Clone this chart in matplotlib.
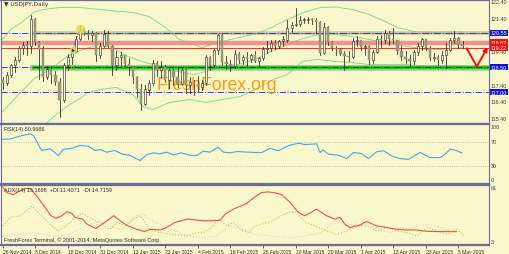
import numpy as np
import matplotlib.pyplot as plt
from matplotlib.transforms import blended_transform_factory

# USDJPY daily bars, 26 Nov 2014 .. 6 May 2015
opens = [117.75, 117.55, 118.05, 118.60, 118.95, 119.65, 119.80, 119.75, 121.40, 120.00,
         119.60, 117.90, 118.40, 118.00, 117.60, 116.50, 118.60, 119.10, 119.45, 120.20,
         120.75, 120.50, 120.40, 120.55, 119.20, 119.75, 120.50, 119.75, 118.60, 119.10,
         119.20, 118.70, 118.50, 117.90, 117.20, 116.30, 117.15, 117.55, 118.75, 118.30,
         118.50, 117.70, 118.30, 117.90, 117.50, 118.30, 117.45, 117.60, 117.50, 117.30,
         117.55, 119.10, 118.60, 119.50, 120.40, 118.80, 118.70, 118.55, 119.30, 118.90,
         119.10, 119.00, 119.25, 118.85, 119.05, 119.60, 119.65, 119.95, 119.75, 120.05,
         120.15, 120.85, 121.05, 121.10, 121.35, 121.35, 121.40, 121.30, 121.20, 119.35,
         120.90, 120.00, 119.65, 119.60, 119.30, 119.15, 119.10, 120.05, 120.10, 119.70,
         119.75, 118.95, 119.40, 120.20, 120.15, 120.55, 120.20, 120.10, 119.45, 119.10,
         119.00, 118.85, 119.40, 119.75, 120.15, 119.65, 119.05, 119.10, 118.90, 119.25,
         119.50, 120.15, 120.25, 119.80]
highs = [117.90, 118.20, 118.70, 119.10, 119.75, 120.00, 120.05, 121.65, 121.45, 120.05,
         119.75, 118.55, 118.55, 118.25, 117.85, 118.75, 119.30, 119.55, 120.35, 120.95,
         120.85, 120.70, 120.65, 120.60, 119.95, 120.70, 120.65, 119.80, 119.45, 119.40,
         119.25, 119.05, 118.55, 117.95, 117.50, 117.40, 117.75, 118.90, 118.85, 118.85,
         118.65, 118.40, 118.40, 118.50, 118.45, 118.40, 117.90, 117.70, 117.95, 117.70,
         119.20, 119.15, 119.60, 120.50, 120.50, 119.15, 118.90, 119.50, 119.40, 119.25,
         119.40, 119.30, 119.45, 119.10, 119.70, 120.05, 120.15, 120.10, 120.15, 120.35,
         121.30, 121.20, 122.05, 121.55, 121.45, 121.50, 121.45, 121.45, 121.25, 121.15,
         120.95, 120.05, 119.75, 119.65, 119.45, 119.45, 120.25, 120.35, 120.15, 119.80,
         119.80, 119.55, 120.35, 120.40, 120.75, 120.65, 120.85, 120.15, 119.75, 119.45,
         119.25, 119.55, 119.95, 120.25, 120.15, 119.75, 119.35, 119.25, 119.45, 119.95,
         120.25, 120.65, 120.30, 120.05]
lows = [117.20, 117.45, 117.90, 118.20, 118.80, 119.30, 119.20, 119.35, 119.85, 117.80,
        117.65, 117.80, 117.55, 117.45, 115.50, 116.40, 118.30, 118.70, 119.40, 120.10,
        120.40, 120.20, 120.05, 118.85, 119.05, 119.70, 119.70, 118.05, 118.35, 118.60,
        118.55, 118.05, 117.55, 116.70, 115.90, 116.20, 116.85, 117.45, 117.95, 117.85,
        117.60, 117.25, 117.40, 117.30, 117.45, 116.95, 116.95, 116.85, 117.05, 117.10,
        117.45, 118.30, 118.55, 119.30, 118.60, 118.40, 118.25, 118.45, 118.75, 118.70,
        118.55, 118.80, 118.80, 118.50, 118.95, 119.35, 119.45, 119.60, 119.65, 119.75,
        120.00, 120.60, 120.95, 120.95, 121.15, 121.15, 121.10, 120.55, 119.25, 119.30,
        119.85, 119.50, 119.25, 119.20, 118.35, 118.85, 119.05, 119.75, 119.50, 119.25,
        118.70, 118.75, 119.35, 119.70, 119.95, 119.85, 119.95, 119.30, 118.95, 118.75,
        118.55, 118.70, 119.25, 119.55, 119.55, 118.95, 118.85, 118.65, 118.75, 118.45,
        119.45, 119.95, 119.65, 119.65]
closes = [117.55, 118.05, 118.60, 118.95, 119.65, 119.80, 119.75, 121.40, 120.00, 119.60,
          117.90, 118.40, 118.00, 117.60, 116.50, 118.60, 119.10, 119.45, 120.20, 120.75,
          120.50, 120.40, 120.55, 119.20, 119.75, 120.50, 119.75, 118.60, 119.10, 119.20,
          118.70, 118.50, 117.90, 117.20, 116.30, 117.15, 117.55, 118.75, 118.30, 118.50,
          117.70, 118.30, 117.90, 117.50, 118.30, 117.45, 117.60, 117.50, 117.30, 117.55,
          119.10, 118.60, 119.50, 120.40, 118.80, 118.70, 118.55, 119.30, 118.90, 119.10,
          119.00, 119.25, 118.85, 119.05, 119.60, 119.65, 119.95, 119.75, 120.05, 120.15,
          120.85, 121.05, 121.10, 121.35, 121.35, 121.40, 121.30, 121.20, 119.35, 120.90,
          120.00, 119.65, 119.60, 119.30, 119.15, 119.10, 120.05, 120.10, 119.70, 119.75,
          118.95, 119.40, 120.20, 120.15, 120.55, 120.20, 120.10, 119.45, 119.10, 119.00,
          118.85, 119.40, 119.75, 120.15, 119.65, 119.05, 119.10, 118.90, 119.25, 119.50,
          120.15, 120.25, 119.80, 119.75]

date_labels = ['26 Nov 2014', '8 Dec 2014', '18 Dec 2014', '31 Dec 2014', '13 Jan 2015',
               '23 Jan 2015', '4 Feb 2015', '16 Feb 2015', '26 Feb 2015', '10 Mar 2015',
               '20 Mar 2015', '1 Apr 2015', '13 Apr 2015', '23 Apr 2015', '5 May 2015']

# Bollinger bands, read at a few bars
bb_up_x = [0, 2, 5, 7.5, 10, 14, 19, 24, 28, 32, 36, 40, 43.5, 47, 49, 53, 58, 62.5, 66, 70,
           74, 78, 82, 86, 90, 94, 97, 101, 106, 113]
bb_up = [120.15, 120.75, 121.23, 121.77, 121.95, 122.07, 122.07, 121.95, 121.85, 121.77,
         121.53, 120.87, 120.15, 119.85, 119.67, 119.97, 120.27, 120.51, 120.87, 121.35,
         121.77, 122.07, 122.10, 121.95, 121.65, 121.23, 120.87, 120.63, 120.57, 120.63]
bb_mid_x = [0, 4, 7.5, 11.7, 15.8, 19.8, 24, 27, 30.8, 35, 39, 43, 47, 50, 54, 58, 62, 66,
            69.5, 73, 77.5, 81.7, 86, 90, 94, 99.4, 104.3, 108, 113]
bb_mid = [115.83, 116.85, 117.75, 118.35, 119.13, 119.55, 119.85, 119.67, 119.13, 118.77,
          118.53, 118.23, 118.05, 118.23, 118.53, 118.65, 118.95, 119.43, 119.79, 120.15,
          120.45, 120.45, 120.33, 120.15, 119.97, 119.73, 119.55, 119.55, 119.67]
bb_low_x = [8, 10.4, 13, 15.8, 19, 21, 24, 28, 32, 34.5, 37, 41, 46, 50, 54, 58.4, 62, 66.5,
            70, 73.6, 77.5, 81.7, 86, 90, 94, 99.4, 104, 113]
bb_low = [114.50, 115.05, 115.60, 116.13, 116.61, 116.97, 117.15, 117.27, 116.85, 116.13,
          115.95, 116.37, 116.55, 116.37, 116.55, 116.73, 117.15, 117.75, 118.05, 118.83,
          118.95, 118.83, 118.77, 118.65, 118.65, 118.65, 118.55, 118.55]

# RSI(14)
rsi_x = [0, 2, 4.3, 6.8, 7.6, 9.6, 11.7, 13.7, 14.9, 17, 19, 21.1, 22.7, 24, 25.6, 27.6,
         29.3, 31.3, 33.8, 35.4, 37.1, 38.7, 40.3, 42, 44, 46.1, 47.7, 49.3, 51, 53, 54.3,
         55.9, 57.5, 62, 63.7, 65.7, 67.8, 70.2, 72.7, 74.3, 77.2, 78, 78.8, 80, 82.5, 84.6,
         86.2, 88.2, 89.9, 91.9, 93.6, 95.6, 97.7, 99.7, 102.6, 105, 107.5, 108.7, 110,
         111.6, 112.8]
rsi = [73.5, 74.5, 79.0, 82.8, 80.0, 55.0, 57.8, 46.7, 56.7, 58.9, 63.3, 62.2, 55.0, 56.7,
       52.2, 55.0, 49.4, 46.7, 38.3, 47.8, 51.1, 49.4, 52.2, 47.8, 51.1, 46.7, 46.7, 53.9,
       52.2, 60.6, 52.2, 51.1, 53.3, 51.7, 51.7, 58.6, 54.6, 63.1, 67.1, 64.9, 66.0, 51.7,
       55.7, 48.9, 47.2, 41.4, 51.7, 50.0, 41.4, 52.9, 54.6, 46.0, 41.4, 40.3, 51.7, 43.2,
       43.2, 48.9, 57.4, 54.6, 50.97]

# ADX(14) with +DI / -DI
adx_x = [0, 1.1, 2.6, 4.1, 5.6, 6.8, 8.3, 10.1, 11.9, 13.1, 14.6, 15.8, 17, 17.8, 19.6,
         20.8, 22.9, 25.1, 27.3, 28.9, 30.5, 32.9, 34.9, 36.4, 38.7, 40.3, 42.3, 45.5, 47.1,
         49.4, 51.3, 53.5, 54.7, 56.8, 59.8, 62, 63.6, 65.1, 66.8, 68.5, 70.6, 72.6, 74.2,
         75.9, 77.1, 79.6, 81.6, 82.9, 84.1, 85.3, 87.8, 89.4, 91.9, 94.3, 96.8, 99.2, 101.7,
         104.1, 106.6, 109, 111.5]
adx = [59.2, 53.5, 51.5, 54.8, 57.5, 57.5, 50.8, 40.8, 30.8, 28.2, 30.8, 34.8, 33.2, 29.2,
       27.5, 22.5, 18.2, 24.2, 30.8, 25.8, 21.5, 17.5, 15.2, 17.5, 16.8, 19.2, 24.2, 27.5,
       26.8, 25.8, 25.8, 26.5, 32.5, 37.5, 42.5, 49.2, 53.5, 54.2, 53.5, 51.5, 44.2, 34.2,
       30.8, 34.2, 37.5, 30.8, 27.5, 29.2, 22.5, 19.2, 21.5, 25.2, 20.8, 19.2, 17.5, 16.8,
       16.8, 15.5, 15.2, 15.2, 15.17]
pdi_x = [0, 2, 4.4, 7.2, 9.2, 11.2, 13.6, 15.6, 18.1, 19.6, 21.3, 23.8, 26.3, 28, 30.5,
         32.1, 33.8, 36.2, 38.7, 42, 45.3, 47.8, 49.4, 51.8, 53.1, 55.1, 56.7, 58.4, 60.4,
         62, 65.3, 67.8, 69.9, 71.7, 74.6, 78.7, 82, 84.6, 87, 89.5, 92, 94.5, 96.9, 99.4,
         101.8, 104.3, 106.8, 109.2, 111.6, 113.3]
pdi = [20.8, 29.2, 30.8, 40.2, 32.5, 24.2, 15.8, 20.8, 29.2, 33.5, 29.2, 24.2, 17.5, 24.2,
       20.8, 27.5, 30.8, 17.5, 14.2, 12.5, 10.8, 14.2, 14.2, 20.8, 27.5, 20.8, 24.2, 17.5,
       14.2, 20.8, 24.2, 29.2, 33.5, 35.2, 24.2, 17.5, 12.5, 15.8, 22.5, 20.8, 15.8, 19.2,
       15.8, 14.2, 10.8, 19.2, 15.8, 12.5, 17.5, 11.41]
mdi_x = [0, 4.1, 8.2, 12.3, 16.4, 20.5, 22.9, 24.6, 27, 29.5, 32.8, 34.4, 36.9, 39.3,
         42.6, 45.9, 49.1, 52.4, 55.7, 59, 62, 66.1, 70.2, 74.2, 78.3, 80.8, 83.2, 85.7, 88.1,
         90.6, 93, 95.5, 98, 100.4, 103, 106.2, 108.7, 111.3]
mdi = [10.8, 12.5, 14.2, 10.8, 12.5, 20.8, 24.2, 24.2, 19.2, 17.5, 30.8, 32.5, 25.8, 20.8,
       15.8, 10.8, 9.2, 10.8, 20.8, 17.5, 12.5, 10.8, 9.2, 10.8, 14.2, 22.5, 24.2, 17.5,
       20.8, 24.2, 15.8, 14.2, 19.2, 17.5, 22.5, 20.8, 17.5, 14.72]

plt.rcParams['font.family'] = ['Liberation Sans', 'DejaVu Sans']

BG = '#f8f8cc'
FRAME = '#6c6c9c'
TXT = '#303030'
n = len(closes)

fig = plt.figure(figsize=(5.1, 2.55), dpi=100, facecolor=BG)
W, H = 510.0, 255.0


def panel(top, bottom):
    ax = fig.add_axes([1 / W, 1 - bottom / H, 488 / W, (bottom - top) / H])
    ax.set_facecolor(BG)
    for s in ax.spines.values():
        s.set_color(FRAME)
        s.set_linewidth(0.8)
    ax.spines['top'].set_linewidth(1.6)
    ax.spines['bottom'].set_linewidth(1.6)
    ax.set_xlim(-0.37, 119.5)
    ax.set_xticks([])
    ax.set_yticks([])
    return ax


ax1 = panel(0.5, 124.5)
ax2 = panel(124.5, 184.5)
ax3 = panel(185.5, 245.5)

# ---- main price panel
ax1.set_ylim(115.11, 122.55)
for bx, by in [(bb_up_x, bb_up), (bb_mid_x, bb_mid), (bb_low_x, bb_low)]:
    ax1.plot(bx, by, color='#8fd88f', lw=0.7)

# level lines
ax1.axhline(117.00, color='#3a3aff', lw=0.7, ls='-.')
ax1.axhline(120.55, color='#3a3aff', lw=0.7, ls='-.')
ax1.axhline(118.50, color='#3a3aff', lw=0.7, ls='-.')
ax1.axhline(119.97, color='#f08888', lw=3.2, alpha=0.9)
ax1.axhline(119.67, color='#ff3030', lw=0.8)
ax1.plot([7.6, 119.5], [120.55, 120.55], color='#b8b8a0', lw=2.6, alpha=0.7)
ax1.plot([7.6, 119.5], [120.55, 120.55], color='#505050', lw=0.8, ls='-.')
ax1.plot([7.6, 119.5], [118.47, 118.47], color='#a0a090', lw=4.2, alpha=0.6)
ax1.plot([7.6, 119.5], [118.50, 118.50], color='#10d010', lw=2.4)
ax1.plot([7.6, 119.5], [118.50, 118.50], color='#005000', lw=0.7, ls='-.')

# candles
for i in range(n):
    o, h, l, c = opens[i], highs[i], lows[i], closes[i]
    ax1.plot([i, i], [l, h], color='#202020', lw=0.55, zorder=3)
    if c < o:
        ax1.bar(i, o - c, bottom=c, width=0.55, color='#9a9a7a', edgecolor='#8a8a6a',
                lw=0.3, zorder=4)
    else:
        ax1.bar(i, max(c - o, 0.02), bottom=o, width=0.5, color=BG, edgecolor='#202020',
                lw=0.4, zorder=4)

# trade marks
ax1.plot([17.3, 19.0], [119.55, 120.81], color='#2020c0', lw=0.6, ls=':', zorder=5)
ax1.scatter([17.3], [119.55], s=28, color='#e0dc50', alpha=0.85, zorder=5, lw=0)
ax1.scatter([19.0], [120.81], s=45, color='#e0dc50', alpha=0.85, zorder=5, lw=0)
ax1.scatter([17.3], [119.55], s=6, marker='>', color='#2020d0', zorder=6, lw=0)

# red V arrow
ax1.plot([114.05, 116.5], [119.61, 118.53], color='#ee1010', lw=1.4, zorder=6)
ax1.annotate('', xy=(119.2, 119.7), xytext=(116.5, 118.53),
             arrowprops=dict(arrowstyle='-|>', color='#ee1010', lw=1.4,
                             mutation_scale=6, shrinkA=0, shrinkB=0), zorder=6)

ax1.text(0.4426, 0.28, 'FreshForex.org', transform=ax1.transAxes, ha='center',
         va='baseline', fontsize=12.7, color='#ff9a10', zorder=2)
ax1.text(0.006, 0.985, '\u25bc USDJPY,Daily', transform=ax1.transAxes, ha='left', va='top',
         fontsize=4.2, color=TXT, family=['DejaVu Sans'])

tr1 = blended_transform_factory(ax1.transAxes, ax1.transData)
for v in [122.40, 121.40, 119.40, 117.40, 116.40, 115.40]:
    ax1.text(1.004, v, '%.2f' % v, transform=tr1, fontsize=3.9, va='center', ha='left',
             color='#404040', clip_on=False)
for v, lab, col in [(120.55, '120.55', '#1010e0'), (119.97, '119.62', '#f01010'),
                    (119.67, '119.22', '#f01010'), (118.50, '118.50', '#1010e0'),
                    (117.00, '117.00', '#1010e0')]:
    ax1.text(1.004, v, lab, transform=tr1, fontsize=3.9, va='center', ha='left',
             color='white', clip_on=False,
             bbox=dict(boxstyle='square,pad=0.1', fc=col, ec='none'))

# ---- RSI panel
ax2.set_ylim(0, 100)
ax2.axhline(70, color='#b0b0a0', lw=0.6, ls=':')
ax2.axhline(30, color='#b0b0a0', lw=0.6, ls=':')
ax2.plot(rsi_x, rsi, color='#4aa6ea', lw=0.8)
ax2.text(0.006, 0.95, 'RSI(14) 50.9686', transform=ax2.transAxes, ha='left', va='top',
         fontsize=4.0, color=TXT)
tr2 = blended_transform_factory(ax2.transAxes, ax2.transData)
for v, y in [('100', 95), ('70', 70), ('30', 30), ('0', 6)]:
    ax2.text(1.004, y, v, transform=tr2, fontsize=3.9, va='center', ha='left',
             color='#404040', clip_on=False)

# ---- ADX panel
ax3.set_ylim(2.5, 61.5)
ax3.plot(mdi_x, mdi, color='#f2c4c4', lw=0.8, ls=':')
ax3.plot(pdi_x, pdi, color='#b0d04c', lw=0.8, ls=':')
ax3.plot(adx_x, adx, color='#ff4a4a', lw=0.8)
ax3.text(0.006, 0.96, 'ADX(14) 15.1698  +DI:11.4071  -DI:14.7159', transform=ax3.transAxes,
         ha='left', va='top', fontsize=4.0, color=TXT)
ax3.text(0.006, 0.04, 'FreshForex Terminal, \u00a9 2001-2014, MetaQuotes Software Corp.',
         transform=ax3.transAxes, ha='left', va='bottom', fontsize=4.0, color=TXT)
tr3 = blended_transform_factory(ax3.transAxes, ax3.transData)
for v, y in [('61', 58.5), ('3', 5)]:
    ax3.text(1.004, y, v, transform=tr3, fontsize=3.9, va='center', ha='left',
             color='#404040', clip_on=False)

ax3.set_xticks(np.arange(0, n, 8))
ax3.set_xticklabels(date_labels, fontsize=3.6, color=TXT, ha='left')
ax3.tick_params(axis='x', length=2, width=0.6, pad=1, color='#404040')

fig.savefig('out.png', dpi=100, facecolor=BG)
